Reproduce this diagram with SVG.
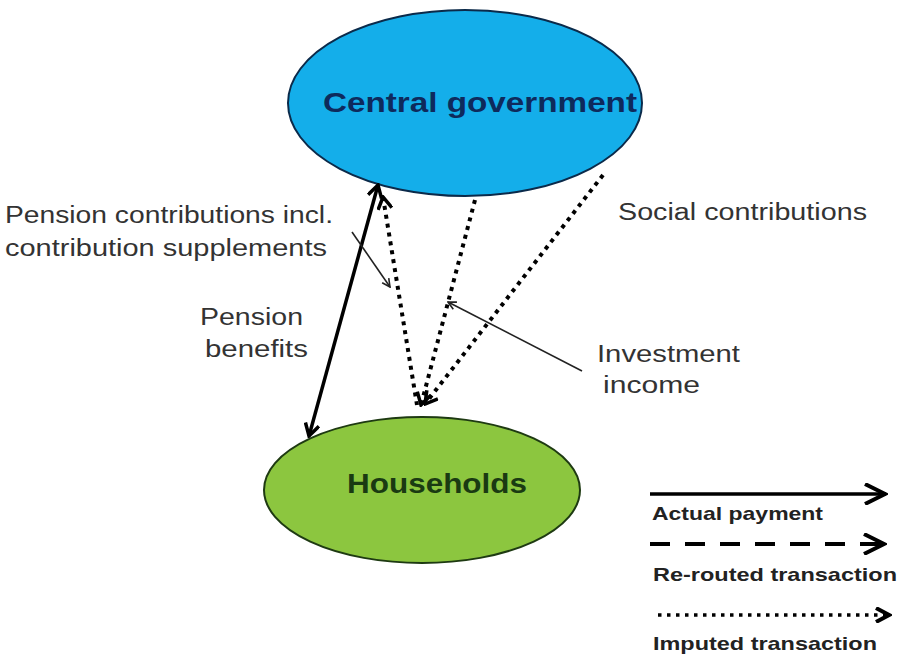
<svg xmlns="http://www.w3.org/2000/svg" width="899" height="657" viewBox="0 0 899 657">
<defs>
<style>
.lbl{font-family:"Liberation Sans",Arial,sans-serif;font-size:23px;fill:#333;}
.node{font-family:"Liberation Sans",Arial,sans-serif;font-weight:bold;font-size:28px;}
.leg{font-family:"Liberation Sans",Arial,sans-serif;font-weight:bold;font-size:19px;fill:#222;}
.solid{stroke:#000;stroke-width:3.5;fill:none;}
.dot{stroke:#000;stroke-width:4;stroke-dasharray:4 5;fill:none;}
.thin{stroke:#222;stroke-width:1.6;fill:none;}
</style>
<marker id="chev" viewBox="0 0 16 16" refX="14" refY="8" markerWidth="16" markerHeight="16" markerUnits="userSpaceOnUse" orient="auto-start-reverse">
<path d="M2,1 L14,8 L2,15" fill="none" stroke="#000" stroke-width="3.5"/>
</marker>
<marker id="chevS" viewBox="0 0 10 10" refX="9" refY="5" markerWidth="10" markerHeight="10" markerUnits="userSpaceOnUse" orient="auto-start-reverse">
<path d="M1,1 L9,5 L1,9" fill="none" stroke="#222" stroke-width="1.6"/>
</marker>
<marker id="chevL" viewBox="0 0 26 22" refX="24" refY="11" markerWidth="26" markerHeight="22" markerUnits="userSpaceOnUse" orient="auto">
<path d="M3,1 L23,11 L3,21" fill="none" stroke="#000" stroke-width="4"/>
</marker>
<marker id="chevD" viewBox="0 0 18 16" refX="16" refY="8" markerWidth="18" markerHeight="16" markerUnits="userSpaceOnUse" orient="auto">
<path d="M2,1 L15,8 L2,15" fill="none" stroke="#000" stroke-width="4"/>
</marker>
</defs>
<rect width="899" height="657" fill="#fff"/>

<g id="central-government">
<ellipse cx="465" cy="103" rx="177" ry="93" fill="#14aeea" stroke="#0b2a4a" stroke-width="2"/>
<text class="node" x="323" y="112" textLength="314" lengthAdjust="spacingAndGlyphs" fill="#0e2a5c">Central government</text>
</g>

<g id="households">
<ellipse cx="422" cy="490" rx="158" ry="73" fill="#8cc63f" stroke="#1e3a12" stroke-width="2"/>
<text class="node" x="347" y="493" textLength="180" lengthAdjust="spacingAndGlyphs" fill="#1a3a12">Households</text>
</g>

<g id="connectors">
<line class="solid" x1="378" y1="185" x2="309" y2="436" marker-start="url(#chev)" marker-end="url(#chev)"/>
<line class="dot" x1="383" y1="197" x2="417" y2="405" marker-start="url(#chev)"/>
<line class="dot" x1="475" y1="200" x2="421" y2="405" marker-end="url(#chev)"/>
<line class="dot" x1="603" y1="175" x2="425" y2="404" marker-end="url(#chev)"/>
<line class="thin" x1="352" y1="232" x2="390" y2="287" marker-end="url(#chevS)"/>
<line class="thin" x1="582" y1="371" x2="448" y2="302" marker-end="url(#chevS)"/>
</g>

<g id="labels">
<text class="lbl" x="5" y="223" textLength="328" lengthAdjust="spacingAndGlyphs">Pension contributions incl.</text>
<text class="lbl" x="5" y="256" textLength="322" lengthAdjust="spacingAndGlyphs">contribution supplements</text>
<text class="lbl" x="200" y="325" textLength="103" lengthAdjust="spacingAndGlyphs">Pension</text>
<text class="lbl" x="205" y="357" textLength="103" lengthAdjust="spacingAndGlyphs">benefits</text>
<text class="lbl" x="618" y="220" textLength="249" lengthAdjust="spacingAndGlyphs">Social contributions</text>
<text class="lbl" x="597" y="362" textLength="143" lengthAdjust="spacingAndGlyphs">Investment</text>
<text class="lbl" x="603" y="393" textLength="97" lengthAdjust="spacingAndGlyphs">income</text>
</g>

<g id="legend">
<line x1="650" y1="494" x2="886" y2="494" stroke="#000" stroke-width="3.5" marker-end="url(#chevL)"/>
<text class="leg" x="652" y="520" textLength="171" lengthAdjust="spacingAndGlyphs">Actual  payment</text>
<line x1="650" y1="544" x2="885" y2="544" stroke="#000" stroke-width="4" stroke-dasharray="20 15" marker-end="url(#chevL)"/>
<text class="leg" x="653" y="581" textLength="244" lengthAdjust="spacingAndGlyphs">Re-routed transaction</text>
<line x1="658" y1="615" x2="890" y2="615" stroke="#000" stroke-width="3.5" stroke-dasharray="3.5 5.5" marker-end="url(#chevD)"/>
<text class="leg" x="653" y="650" textLength="224" lengthAdjust="spacingAndGlyphs">Imputed transaction</text>
</g>
</svg>
